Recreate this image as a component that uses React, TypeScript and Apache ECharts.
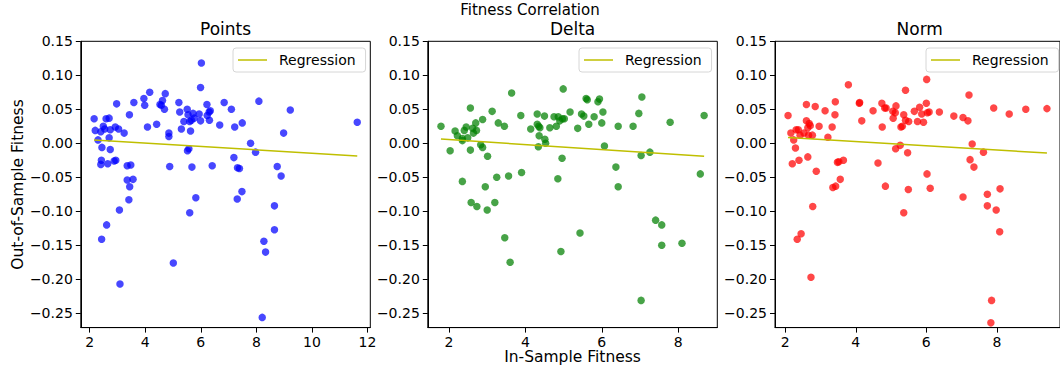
import React, { useEffect, useRef } from "react";
import * as echarts from "echarts";

const FONT = "DejaVu Sans";

const suptitle = "Fitness Correlation";
const panelTitles = ["Points", "Delta", "Norm"];
const xAxisLabel = "In-Sample Fitness";
const yAxisLabel = "Out-of-Sample Fitness";
const legendLabel = "Regression";

const yTicks = [-0.25, -0.2, -0.15, -0.1, -0.05, 0, 0.05, 0.1, 0.15];
const xTicksPoints = [2, 4, 6, 8, 10, 12];
const xTicksDelta = [2, 4, 6, 8];
const xTicksNorm = [2, 4, 6, 8];

const pointsX = [2.16, 2.2, 2.3, 2.4, 2.44, 2.49, 2.54, 2.59, 2.7, 2.7, 2.74, 2.74, 2.92, 3.04, 2.97, 3.24, 3.43, 3.59, 3.95, 3.98, 4.16, 4.08, 4.41, 4.53, 4.58, 4.62, 4.72, 4.69, 4.85, 4.85, 5.21, 5.24, 5.3, 5.39, 5.51, 5.54, 5.6, 5.63, 5.72, 5.66, 5.76, 5.94, 5.99, 6.02, 5.99, 6.22, 6.3, 6.34, 6.23, 6.31, 6.68, 6.84, 7.1, 7.22, 5.57, 5.52, 7.19, 7.32, 2.42, 2.4, 2.65, 2.88, 2.94, 3.35, 3.48, 4.88, 5.68, 6.41, 3.35, 3.56, 3.44, 8.09, 9.22, 7.49, 8.98, 11.63, 7.79, 7.97, 7.39, 8.75, 8.89, 3.41, 3.07, 2.61, 2.43, 3.09, 5.01, 5.6, 5.82, 7.31, 7.48, 8.65, 8.65, 8.27, 8.33, 8.21];
const pointsY = [0.036, 0.019, 0.005, 0.017, -0.006, 0.025, 0.021, 0.036, 0.037, 0.008, 0.02, -0.009, 0.024, 0.021, 0.058, 0.015, 0.042, 0.06, 0.066, 0.056, 0.075, 0.024, 0.028, 0.057, 0.056, 0.063, 0.073, 0.05, 0.015, 0.01, 0.06, 0.046, 0.021, 0.032, 0.05, 0.042, 0.032, 0.018, 0.044, 0.034, 0.037, 0.043, 0.033, 0.118, 0.082, 0.057, 0.046, 0.048, 0.041, 0.034, 0.027, 0.06, 0.05, 0.024, -0.008, -0.011, -0.021, -0.036, -0.025, -0.031, -0.03, -0.026, -0.025, -0.033, -0.032, -0.034, -0.035, -0.033, -0.054, -0.053, -0.064, 0.062, 0.049, 0.03, 0.015, 0.031, 0.0, -0.013, -0.037, -0.034, -0.048, -0.083, -0.098, -0.12, -0.141, -0.207, -0.176, -0.102, -0.08, -0.082, -0.071, -0.092, -0.127, -0.144, -0.16, -0.256];

const deltaX = [1.79, 2.03, 2.16, 2.22, 2.35, 2.35, 2.4, 2.45, 2.49, 2.56, 2.56, 2.62, 2.64, 2.7, 2.72, 2.83, 2.88, 2.88, 3.01, 3.13, 3.29, 3.45, 3.64, 3.88, 4.14, 4.31, 4.31, 4.35, 4.38, 4.36, 4.5, 4.51, 4.53, 4.34, 4.64, 4.75, 4.81, 4.86, 4.9, 4.97, 5.02, 4.99, 5.17, 5.37, 4.96, 2.35, 2.95, 3.25, 3.56, 3.9, 4.85, 5.59, 5.62, 5.9, 5.94, 7.05, 5.47, 5.53, 5.8, 6.03, 6.97, 8.68, 5.66, 6.0, 6.43, 6.82, 7.79, 6.07, 7.03, 7.26, 6.37, 8.58, 6.43, 2.58, 2.73, 3.0, 3.2, 3.46, 3.6, 4.93, 5.43, 7.41, 7.57, 7.57, 8.1, 7.03];
const deltaY = [0.025, -0.011, 0.018, 0.011, 0.004, 0.007, 0.019, 0.024, 0.008, 0.052, -0.01, 0.022, 0.015, 0.03, 0.019, -0.002, -0.006, 0.035, -0.019, 0.047, 0.03, 0.025, 0.074, 0.041, 0.021, 0.043, 0.028, 0.025, 0.023, 0.011, 0.04, 0.006, 0.0, -0.005, 0.023, 0.039, 0.025, 0.039, 0.033, 0.036, 0.036, 0.08, 0.046, 0.022, -0.022, -0.056, -0.064, -0.05, -0.048, -0.043, -0.052, 0.066, 0.064, 0.061, 0.065, 0.068, 0.043, 0.04, 0.039, 0.046, 0.044, 0.041, 0.028, 0.03, 0.025, 0.025, 0.031, -0.004, -0.018, -0.013, -0.035, -0.045, -0.064, -0.087, -0.093, -0.098, -0.087, -0.139, -0.175, -0.159, -0.132, -0.113, -0.12, -0.15, -0.147, -0.231];

const normX = [2.08, 2.16, 2.24, 2.29, 2.31, 2.37, 2.42, 2.2, 2.39, 2.53, 2.6, 2.6, 2.64, 2.68, 2.71, 2.66, 2.77, 2.64, 2.85, 2.88, 2.96, 3.13, 3.21, 3.33, 3.41, 3.42, 3.48, 3.52, 3.65, 3.56, 3.35, 3.43, 3.79, 4.1, 4.11, 4.17, 4.49, 4.63, 4.74, 4.75, 4.82, 4.86, 4.84, 5.05, 5.12, 5.14, 5.06, 5.13, 5.26, 5.28, 5.32, 5.36, 5.41, 5.41, 5.47, 5.5, 5.49, 5.66, 5.75, 6.01, 5.81, 5.87, 6.0, 6.03, 6.08, 5.92, 6.37, 6.78, 7.04, 7.18, 7.21, 7.91, 8.35, 8.82, 9.42, 7.3, 7.62, 7.24, 7.35, 6.02, 6.11, 8.09, 2.78, 5.36, 2.45, 2.34, 2.73, 7.04, 7.73, 7.73, 7.98, 8.08, 7.85, 7.83];
const normY = [0.041, 0.015, 0.005, -0.007, 0.02, 0.02, 0.012, -0.03, -0.025, 0.015, 0.057, 0.033, 0.023, 0.029, 0.026, 0.012, 0.012, -0.02, 0.054, -0.041, 0.025, 0.048, 0.009, 0.024, 0.042, 0.061, -0.028, -0.027, -0.025, -0.053, -0.065, -0.063, 0.086, 0.059, 0.06, 0.033, 0.048, -0.029, 0.059, 0.024, 0.052, 0.052, -0.063, 0.047, 0.045, 0.055, 0.037, -0.008, -0.003, 0.024, 0.025, 0.042, 0.078, 0.034, -0.014, 0.032, -0.068, 0.047, 0.032, 0.094, 0.053, 0.043, 0.059, 0.045, 0.046, 0.031, 0.046, 0.04, 0.038, 0.033, 0.071, 0.052, 0.043, 0.05, 0.051, -0.001, -0.013, -0.024, -0.035, -0.045, -0.066, -0.067, -0.093, -0.102, -0.133, -0.141, -0.197, -0.079, -0.075, -0.092, -0.098, -0.13, -0.231, -0.264];

const regPointsX = [2.155, 11.63];
const regPointsY = [0.005, -0.0187];
const regDeltaX = [1.79, 8.68];
const regDeltaY = [0.0063, -0.019];
const regNormX = [2.08, 9.42];
const regNormY = [0.0085, -0.0143];

const xRanges = [
  [1.68, 12.1],
  [1.445, 9.025],
  [1.71, 9.79],
];
const yRange = [-0.271, 0.15];

const zip = (a: number[], b: number[]) => a.map((v, i) => [v, b[i]]);

const panels = [
  { title: panelTitles[0], xs: pointsX, ys: pointsY, rx: regPointsX, ry: regPointsY, ticks: xTicksPoints, color: "#0000ff", left: 80.8, legendLeft: 233 },
  { title: panelTitles[1], xs: deltaX, ys: deltaY, rx: regDeltaX, ry: regDeltaY, ticks: xTicksDelta, color: "#008000", left: 427.8, legendLeft: 579 },
  { title: panelTitles[2], xs: normX, ys: normY, rx: regNormX, ry: regNormY, ticks: xTicksNorm, color: "#ff0000", left: 775, legendLeft: 926 },
];

const GRID_TOP = 41.3;
const GRID_W = 289.5;
const GRID_H = 286.3;

export default function App() {
  const ref = useRef<HTMLDivElement>(null);
  useEffect(() => {
    if (!ref.current) return;
    const chart = echarts.init(ref.current, null, { renderer: "svg" });
    const fmtY = (v: number) => v.toFixed(2).replace("-", "\u2212");
    const txt = (text: string, size: number) => ({
      text,
      fontSize: size,
      fontFamily: FONT,
      fill: "#000",
      textAlign: "center",
      textVerticalAlign: "middle",
      align: "center",
      verticalAlign: "middle",
    });
    const option: any = {
      animation: false,
      backgroundColor: "#fff",
      grid: panels.map((p) => ({
        left: p.left,
        top: GRID_TOP,
        width: GRID_W,
        height: GRID_H,
        show: true,
        borderColor: "#000",
        borderWidth: 1,
        backgroundColor: "transparent",
        containLabel: false,
      })),
      xAxis: panels.map((p, i) => ({
        type: "value",
        gridIndex: i,
        min: xRanges[i][0],
        max: xRanges[i][1],
        axisLine: { show: true, onZero: false, lineStyle: { color: "#000", width: 1 } },
        axisTick: { show: true, inside: false, length: 5, customValues: p.ticks, lineStyle: { color: "#000", width: 1 } },
        axisLabel: { customValues: p.ticks, color: "#000", fontSize: 14, fontFamily: FONT, margin: 7 },
        splitLine: { show: false },
      })),
      yAxis: panels.map((p, i) => ({
        type: "value",
        gridIndex: i,
        min: yRange[0],
        max: yRange[1],
        axisLine: { show: true, onZero: false, lineStyle: { color: "#000", width: 1 } },
        axisTick: { show: true, inside: false, length: 5, customValues: yTicks, lineStyle: { color: "#000", width: 1 } },
        axisLabel: { customValues: yTicks, color: "#000", fontSize: 14, fontFamily: FONT, margin: 8, formatter: fmtY },
        splitLine: { show: false },
      })),
      legend: panels.map((p) => ({
        data: [legendLabel],
        left: p.legendLeft,
        top: 48,
        orient: "vertical",
        selectedMode: false,
        icon: "rect",
        itemWidth: 29,
        itemHeight: 1.5,
        padding: [5, 10, 5, 5],
        backgroundColor: "rgba(255,255,255,0.85)",
        borderColor: "#d6d6d6",
        borderWidth: 1,
        borderRadius: 3,
        textStyle: { fontSize: 14, fontFamily: FONT, color: "#000", padding: [0, 0, 0, 7] },
      })),
      series: panels.flatMap((p, i) => [
        {
          type: "scatter",
          name: p.title,
          xAxisIndex: i,
          yAxisIndex: i,
          data: zip(p.xs, p.ys),
          symbolSize: 7.5,
          itemStyle: { color: p.color, opacity: 0.72 },
          clip: false,
          z: 2,
        },
        {
          type: "line",
          name: legendLabel,
          xAxisIndex: i,
          yAxisIndex: i,
          data: zip(p.rx, p.ry),
          symbol: "none",
          lineStyle: { color: "#bfbf00", width: 1.5 },
          itemStyle: { color: "#bfbf00" },
          z: 3,
        },
      ]),
      graphic: [
        { type: "text", x: 530, y: 10, style: txt(suptitle, 15) },
        ...panels.map((p) => ({ type: "text", x: p.left + GRID_W / 2, y: 29, style: txt(p.title, 17) })),
        { type: "text", x: 18, y: GRID_TOP + GRID_H / 2, rotation: Math.PI / 2, style: txt(yAxisLabel, 15.5) },
        { type: "text", x: panels[1].left + GRID_W / 2, y: 357, style: txt(xAxisLabel, 15.5) },
      ],
    };
    chart.setOption(option);
    return () => chart.dispose();
  }, []);
  return <div ref={ref} style={{ position: "absolute", left: 0, top: 0, width: 1060, height: 370 }} />;
}
